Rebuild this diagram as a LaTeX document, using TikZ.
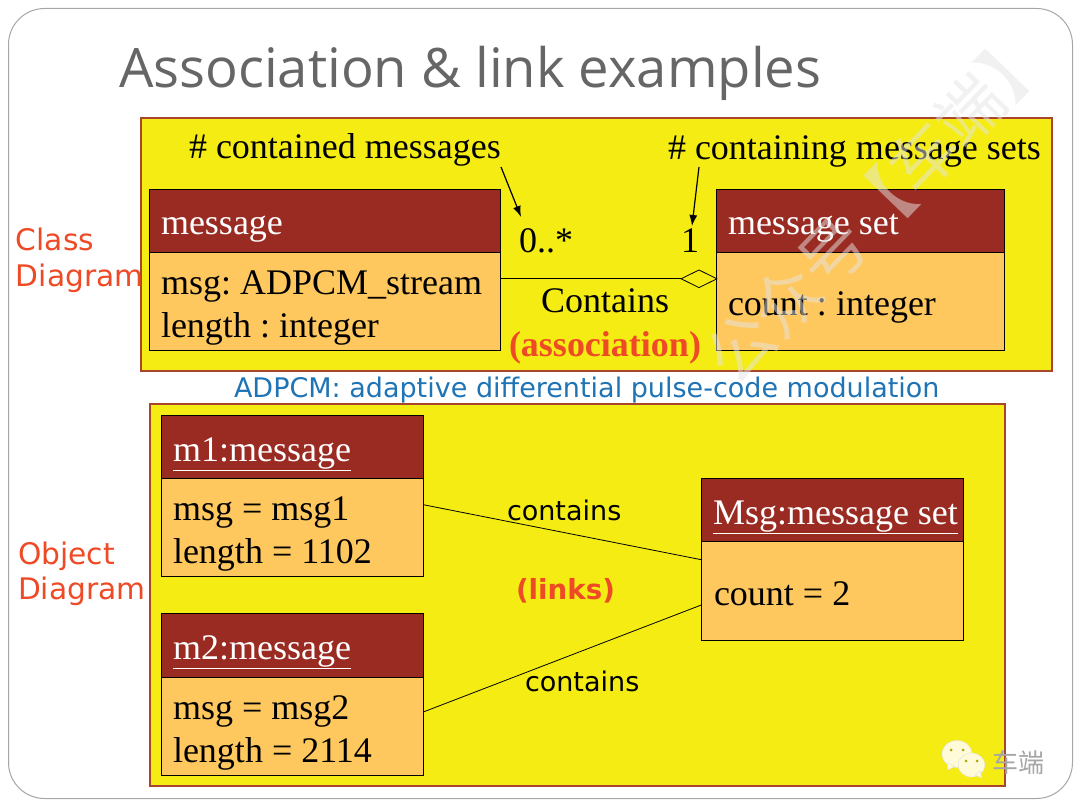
\documentclass[tikz,border=0pt]{standalone}
\usepackage{fontspec}
\setmainfont{Liberation Serif}
\newfontfamily\titlefont{Open Sans}
\newfontfamily\notefont{DejaVu Sans}
\newfontfamily\cjk{Noto Sans CJK SC}
\usetikzlibrary{shapes.geometric,arrows.meta}
\definecolor{panelc}{HTML}{F5EC14}
\definecolor{edgec}{HTML}{A8452B}
\definecolor{headc}{HTML}{9A2B22}
\definecolor{bodyc}{HTML}{FFC85F}
\definecolor{redc}{HTML}{EE4A26}
\definecolor{bluec}{HTML}{1F74B6}
\definecolor{creamc}{HTML}{FFFBD8}
\frenchspacing
\tikzset{
txt/.style={anchor=base west,inner sep=0pt,outer sep=0pt},
serif/.style={txt,font=\fontsize{36}{36}\selectfont},
title/.style={serif,text=white},
panel/.style={anchor=north west,draw=edgec,fill=panelc,line width=1.6pt,inner sep=0pt,outer sep=0pt},
head/.style={anchor=north west,draw=black,fill=headc,line width=0.8pt,inner sep=0pt,outer sep=0pt},
body/.style={anchor=north west,draw=black,fill=bodyc,line width=0.8pt,inner sep=0pt,outer sep=0pt},
side/.style={txt,text=redc,font=\notefont\fontsize{29.7}{29.7}\selectfont},
small/.style={txt,font=\notefont\fontsize{27}{27}\selectfont},
point/.style={draw,line width=1.2pt,-{Latex[length=11pt,width=8pt]}},
bubble/.style={fill=creamc,draw=black!12,line width=0.4pt},
}
\begin{document}
\begin{tikzpicture}[x=1pt,y=-1pt]
\newcommand\laatikko[7]{
\node[head,minimum width=#3,minimum height=#4] (#1h) at (#2) {};
\node[body,minimum width=#3,minimum height=#5] (#1b) at (#1h.south west) {};
\node[title] (#1t) at ([xshift=11.2pt,yshift=-#6pt]#1h.north west) {#7};
}
\useasboundingbox (0,0) rectangle (1080,810);
\node[anchor=north west,draw=black!35,fill=white,line width=1pt,rounded corners=36pt,minimum width=1064,minimum height=790,inner sep=0pt] (page) at (8,8) {};
\node[txt,text=black!60,font=\titlefont\fontsize{54.4}{54.4}\selectfont] (head) at (119,88) {Association \& link examples};

\node[panel,minimum width=911,minimum height=253] (top) at (141,118) {};
\laatikko{mg}{149.8,189.8}{351}{63}{98}{45.2}{message}
\laatikko{st}{716.8,189.8}{288}{63}{98}{45.2}{message set}
\node[serif] (m1) at (161,295) {msg: ADPCM\_stream};
\node[serif] (m2) at (161,338) {length : integer};
\node[serif] (s1) at (728,316) {count : integer};
\node[serif] (q1) at (189,159) {\# contained messages};
\node[serif] (q2) at (668,160) {\# containing message sets};
\node[serif] (n1) at (519,253) {0..*};
\node[serif] (n2) at (681,253) {1};
\node[serif] (as) at (541,313) {Contains};
\node[serif,text=redc,font=\bfseries\fontsize{36}{36}\selectfont] (asr) at (509,357) {(association)};
\node[draw=black,fill=panelc,diamond,aspect=2,minimum width=36,minimum height=18,inner sep=0pt,line width=0.8pt] (dia) at (699,278.8) {};
\path[draw,line width=0.8pt,-] ([yshift=23pt]mgb.east) -- (dia.west);
\coordinate (a1) at (501,167);
\coordinate (a2) at (521,217);
\coordinate (b1) at (699,167);
\coordinate (b2) at (692,226);
\path[point] (a1) -- (a2);
\path[point] (b1) -- (b2);

\node[small,text=bluec] (note) at (234,398) {ADPCM: adaptive differential pulse-code modulation};
\node[side] (c1) at (16,251) {Class};
\node[side] (c2) at (16,287) {Diagram};
\node[side] (o1) at (18,564) {Object};
\node[side] (o2) at (18,599) {Diagram};

\node[panel,minimum width=855,minimum height=382] (bot) at (150,404) {};
\laatikko{a}{161.8,415.8}{262}{63}{98}{45.2}{\underline{m1:message}}
\laatikko{c}{161.8,613.8}{262}{64}{98}{45.2}{\underline{m2:message}}
\laatikko{d}{701.8,478.8}{262}{63}{99}{45.2}{\underline{Msg:message set}}
\node[serif] (a1t) at (173,520) {msg = msg1};
\node[serif] (a2t) at (173,563) {length = 1102};
\node[serif] (c1t) at (173,719) {msg = msg2};
\node[serif] (c2t) at (173,762) {length = 2114};
\node[serif] (d1t) at (714,605) {count = 2};
\path[draw,line width=0.8pt,-] ([yshift=23pt]ab.east) -- ([yshift=31.5pt]db.west);
\path[draw,line width=0.8pt,-] ([yshift=15pt]cb.east) -- ([yshift=-13.5pt]db.west);
\node[small] (l1) at (507,520) {contains};
\node[small] (l2) at (525,691) {contains};
\node[small,text=redc,font=\notefont\bfseries\fontsize{27.7}{27.7}\selectfont] (l3) at (516,599) {(links)};

\node[text=black!10,opacity=0.5,rotate=46,inner sep=0pt,font=\cjk\fontsize{66}{66}\selectfont] (mark) at (878,205) {公众号【车端】};
\path[bubble] (957,754) ellipse (15 and 13.5);
\path[bubble] (947,763) -- (948,770) -- (955,766) -- cycle;
\path[bubble] (971.5,765) ellipse (13.5 and 12);
\path[bubble] (975,775) -- (982,778) -- (980,771) -- cycle;
\fill[black!30!panelc] (951,750) circle (1.5) (963,750) circle (1.5) (966,761) circle (1.5) (977,761) circle (1.5);
\node[txt,text=black!35,font=\cjk\fontsize{26}{26}\selectfont] (brand) at (992,772) {车端};
\end{tikzpicture}
\end{document}
